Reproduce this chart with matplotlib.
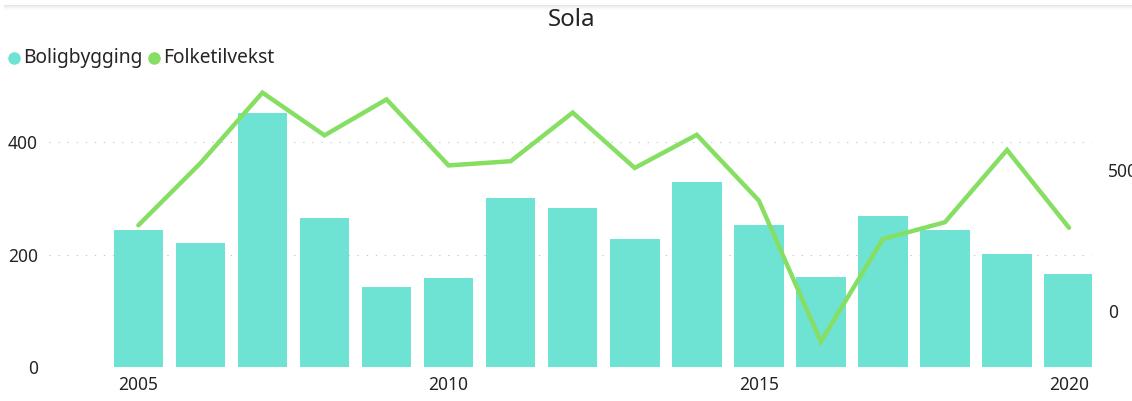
import matplotlib
matplotlib.use("Agg")
import matplotlib.pyplot as plt
from matplotlib.lines import Line2D

plt.rcParams["font.family"] = ["Noto Sans", "DejaVu Sans"]

# Data
years = list(range(2005, 2021))
boligbygging = [243, 220, 452, 265, 142, 159, 301, 283, 228, 329, 252, 161, 269, 244, 201, 165]
folketilvekst = [305, 526, 777, 625, 753, 518, 533, 706, 509, 627, 393, -109, 256, 316, 573, 296]
left_ticks = [0, 200, 400]
right_ticks = [0, 500]
year_ticks = [2005, 2010, 2015, 2020]

bar_color = "#6EE3D3"
line_color = "#86DE62"
text_color = "#252423"

W, H = 1132, 401
fig = plt.figure(figsize=(W / 100, H / 100), dpi=100)
fig.patch.set_facecolor("white")

# plot area in pixels
x0, x1 = 49, 1092
y_top, y_bot = 80, 367.2
ax = fig.add_axes([x0 / W, (H - y_bot) / H, (x1 - x0) / W, (y_bot - y_top) / H])
ax2 = ax.twinx()

ax.bar(years, boligbygging, width=0.8, color=bar_color, zorder=2)
ax2.plot(years, folketilvekst, color=line_color, lw=3.2, solid_capstyle="round",
         solid_joinstyle="miter", zorder=3)

ax.set_xlim(2003.56, 2020.37)
ax.set_ylim(0, 510)
ax2.set_ylim(-200, 822)

ax.set_yticks(left_ticks)
ax2.set_yticks(right_ticks)
ax.set_xticks(year_ticks)
ax.set_xticklabels([str(y) for y in year_ticks])

for a in (ax, ax2):
    for s in a.spines.values():
        s.set_visible(False)
    a.tick_params(length=0, labelsize=12.5, labelcolor=text_color)
ax.tick_params(axis="y", pad=8)
ax.tick_params(axis="x", pad=6.5)
ax2.tick_params(axis="y", pad=11.5)

# dotted horizontal gridlines at left-axis ticks
for v in left_ticks:
    ax.axhline(v, color="#c8c8c8", lw=0.75, ls=(0, (1.3, 7.4)), zorder=1)

# title
fig.text(571.7 / W, 1 - 20 / H, "Sola", ha="center", va="center",
         fontsize=17.3, color=text_color)

# legend
legend_items = [("Boligbygging", bar_color, 13.8, 23),
                ("Folketilvekst", line_color, 153.5, 163)]
for label, col, cx, tx in legend_items:
    fig.add_artist(Line2D([cx / W], [1 - 58 / H], marker="o", markersize=8,
                          markerfacecolor=col, markeredgecolor=col, lw=0,
                          transform=fig.transFigure))
    fig.text(tx / W, 1 - 58 / H, label, ha="left", va="center",
             fontsize=13.8, color=text_color)

# faint top border shadow
for i, c in enumerate(["#e6e6e6", "#eeeeee", "#f3f3f3", "#f8f8f8", "#fcfcfc"]):
    y = 1 - (5 + i) / H
    fig.add_artist(Line2D([4 / W, 1], [y, y], color=c, lw=0.75,
                          transform=fig.transFigure))

fig.savefig("out.png", dpi=100)
